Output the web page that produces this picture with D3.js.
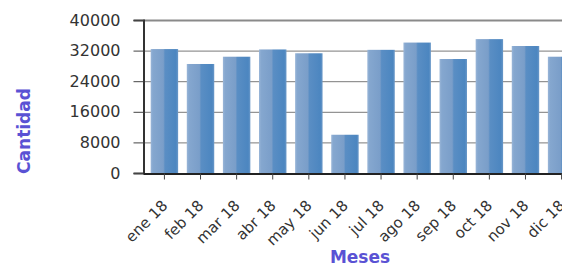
<!DOCTYPE html>
<html><head><meta charset="utf-8">
<script src="https://cdn.jsdelivr.net/npm/d3@7"></script>
<style>body{margin:0;background:#fff;overflow:hidden}svg{display:block}</style>
</head><body><svg id="c" width="562" height="266"></svg>
<script>
const categories = ["ene 18","feb 18","mar 18","abr 18","may 18","jun 18","jul 18","ago 18","sep 18","oct 18","nov 18","dic 18"];
const values = [32400,28500,30400,32300,31300,10000,32200,34100,29800,35000,33200,30400];
const yTicks = [0,8000,16000,24000,32000,40000];

const svg = d3.select("#c");
const mLeft = 143, mTop = 20, mBottom = 173, mRight = 583;
const x = d3.scaleBand().domain(categories).range([mLeft, mRight]).paddingInner(0.24).paddingOuter(0.213);
const y = d3.scaleLinear().domain([0, 40000]).range([mBottom, mTop]);

const defs = svg.append("defs");
const g = defs.append("linearGradient").attr("id","bar").attr("x1","0").attr("x2","1").attr("y1","0").attr("y2","0");
[["0%","#9ab6d8"],["8%","#85a7cf"],["46%","#7a9ec9"],["52%","#5a8ec4"],["92%","#4c86c0"],["100%","#6a98c8"]].forEach(s=>g.append("stop").attr("offset",s[0]).attr("stop-color",s[1]));

// gridlines
svg.append("g").selectAll("line").data(yTicks.filter(t=>t>0 && t<40000)).join("line")
  .attr("x1", mLeft).attr("x2", 562).attr("y1", d=>y(d)+0.5).attr("y2", d=>y(d)+0.5)
  .attr("stroke", "#7a7a7a").attr("stroke-width", 1);
// top border
svg.append("line").attr("x1", mLeft).attr("x2", 562).attr("y1", y(40000)+0.5).attr("y2", y(40000)+0.5)
  .attr("stroke", "#8a8a8a").attr("stroke-width", 2);

// bars
svg.append("g").selectAll("rect").data(values).join("rect")
  .attr("x", (d,i)=>x(categories[i])).attr("width", x.bandwidth())
  .attr("y", d=>y(d)).attr("height", d=>mBottom - y(d))
  .attr("fill", "url(#bar)");

// y axis
const yAxis = d3.axisLeft(y).tickValues(yTicks).tickSize(10).tickPadding(13).tickFormat(d3.format("d"));
const ya = svg.append("g").attr("transform", `translate(${mLeft+0.5},0)`).call(yAxis);
ya.select(".domain").attr("stroke", "#333").attr("stroke-width", 2);
ya.selectAll(".tick line").attr("stroke", "#444");
ya.selectAll("text").attr("font-family", "DejaVu Sans, Verdana, sans-serif").attr("font-size", 16).attr("fill", "#333");

// x axis
const xAxis = d3.axisBottom(x).tickSize(6).tickSizeOuter(0);
const xa = svg.append("g").attr("transform", `translate(0,${mBottom+0.5})`).call(xAxis);
xa.select(".domain").attr("stroke", "#222").attr("stroke-width", 2);
xa.selectAll(".tick line").attr("stroke", "#444");
xa.selectAll("text").attr("font-family", "DejaVu Sans, Verdana, sans-serif").attr("font-size", 15).attr("fill", "#333")
  .attr("text-anchor", "end").attr("dy", null).attr("y", null)
  .attr("transform", "translate(4,33) rotate(-45)");

// titles
svg.append("text").attr("transform", "translate(30,131) rotate(-90)").attr("text-anchor","middle")
  .attr("font-family","DejaVu Sans, Verdana, sans-serif").attr("font-size",17).attr("font-weight","bold")
  .attr("fill","#5a52d4").text("Cantidad");
svg.append("text").attr("x", 360).attr("y", 263).attr("text-anchor","middle")
  .attr("font-family","DejaVu Sans, Verdana, sans-serif").attr("font-size",17).attr("font-weight","bold")
  .attr("fill","#5a52d4").text("Meses");
</script></body></html>
